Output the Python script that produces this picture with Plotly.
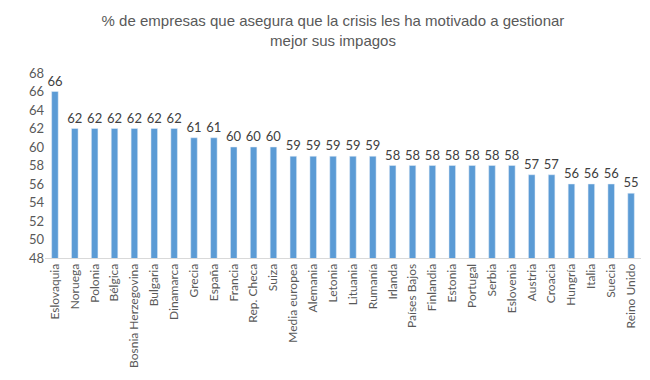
import plotly.graph_objects as go

countries = ["Eslovaquia", "Noruega", "Polonia", "Bélgica", "Bosnia Herzegovina", "Bulgaria",
             "Dinamarca", "Grecia", "España", "Francia", "Rep. Checa", "Suiza", "Media europea",
             "Alemania", "Letonia", "Lituania", "Rumanía", "Irlanda", "Países Bajos", "Finlandia",
             "Estonia", "Portugal", "Serbia", "Eslovenia", "Austria", "Croacia", "Hungría",
             "Italia", "Suecia", "Reino Unido"]
values = [66, 62, 62, 62, 62, 62, 62, 61, 61, 60, 60, 60, 59, 59, 59, 59, 59, 58, 58, 58,
          58, 58, 58, 58, 57, 57, 56, 56, 56, 55]
y_ticks = list(range(48, 69, 2))

fig = go.Figure(go.Bar(
    x=countries, y=values, marker_color="#5B9BD5", width=0.33,
    text=values, textposition="outside", cliponaxis=False,
    textfont=dict(family="Lato", size=13, color="#404040"),
))
fig.update_layout(
    width=650, height=380,
    margin=dict(l=37, r=17, t=65, b=130),
    paper_bgcolor="white", plot_bgcolor="white",
    title=dict(text="% de empresas que asegura que la crisis les ha motivado a gestionar<br>mejor sus impagos",
               x=0.5, xanchor="center", y=0.952, yanchor="top",
               font=dict(family="Liberation Sans", size=15, color="#595959")),
    showlegend=False,
    bargap=0.67,
    uniformtext=dict(minsize=13, mode="show"),
)
fig.update_xaxes(tickangle=-90, showline=True, linecolor="#D9D9D9", linewidth=1, automargin=False,
                 tickfont=dict(family="Lato", size=12, color="#595959"), ticks="")
fig.update_yaxes(range=[48, 68], tickvals=y_ticks, showgrid=False, zeroline=False, showline=False,
                 automargin=False,
                 tickfont=dict(family="Lato", size=13, color="#595959"), ticks="")
fig.write_html("out.html")
